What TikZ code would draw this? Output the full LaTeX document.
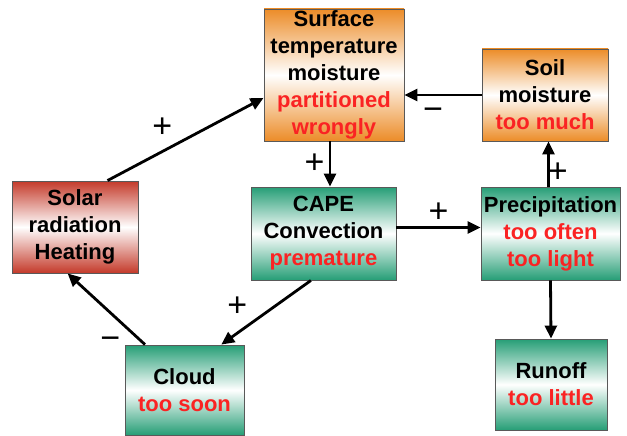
\documentclass[tikz,border=0pt]{standalone}
\usepackage{fontspec}
\setmainfont{Liberation Sans}
\usetikzlibrary{arrows.meta}
\usetikzlibrary{calc}
\definecolor{boxorange}{RGB}{236,140,40}
\definecolor{boxred}{RGB}{196,58,42}
\definecolor{boxgreen}{RGB}{38,158,118}
\definecolor{textred}{RGB}{250,35,35}
\newcommand{\wrong}[1]{\textcolor{textred}{#1}}
\tikzset{
  box/.style={draw=black!65, line width=0.9pt, align=center, inner sep=0pt,
    font=\fontsize{22}{27}\selectfont\bfseries},
  orangebox/.style={box, top color=boxorange, bottom color=boxorange, middle color=white},
  redbox/.style={box, top color=boxred, bottom color=boxred, middle color=white},
  greenbox/.style={box, top color=boxgreen, bottom color=boxgreen, middle color=white},
  sign/.style={font=\fontsize{34}{34}\selectfont, inner sep=0pt},
  arrow/.style={-{Triangle[length=13pt,width=12pt]}, line width=2.8pt}
}
\begin{document}
\begin{tikzpicture}[x=1pt, y=-1pt]
\useasboundingbox (0,0) rectangle (627,436);

\node[orangebox, minimum width=140pt, minimum height=132pt] (surface) at (334,75) {Surface\\temperature\\moisture\\\wrong{partitioned}\\\wrong{wrongly}};
\node[orangebox, minimum width=126pt, minimum height=92pt] (soil) at (545,95) {Soil\\moisture\\\wrong{too much}};
\node[redbox, minimum width=126pt, minimum height=92pt] (solar) at (75,227) {Solar\\radiation\\Heating};
\node[greenbox, minimum width=145pt, minimum height=93pt] (cape) at (323.5,233.5) {CAPE\\Convection\\\wrong{premature}};
\node[greenbox, minimum width=139pt, minimum height=93pt] (precip) at (550.5,233.5) {Precipitation\\\wrong{too often}\\\wrong{too light}};
\node[greenbox, minimum width=119pt, minimum height=90pt] (cloud) at (184.5,390) {Cloud\\\wrong{too soon}};
\node[greenbox, minimum width=112pt, minimum height=91pt] (runoff) at (551,384.5) {Runoff\\\wrong{too little}};

\draw[arrow] (solar.55) -- node[sign, pos=0.45, above left=4pt] {+} (surface.198);
\draw[arrow] (soil.west) -- node[sign, pos=0.63, below=12pt] {−} (soil.west -| surface.east);
\draw[arrow] ([xshift=-4pt]surface.south) -- node[sign, midway, left=4pt] {+} ([xshift=-4pt]surface.south |- cape.north);
\draw[arrow] ([yshift=6pt]cape.east) -- node[sign, midway, above=4pt] {+} ([yshift=6pt]cape.east -| precip.west);
\draw[arrow] ([xshift=-2pt]precip.north) -- node[sign, pos=0.3, right=-2pt] {+} ([xshift=-2pt]precip.north |- soil.south);
\draw[arrow] (precip.south) -- (runoff.north);
\draw[arrow] (cape.255) -- node[sign, pos=0.65, above left=4pt] {+} (cloud.51);
\draw[arrow] (cloud.131) -- node[sign, pos=0.12, left=14pt, yshift=-7pt] {−} (solar.261);
\end{tikzpicture}
\end{document}
